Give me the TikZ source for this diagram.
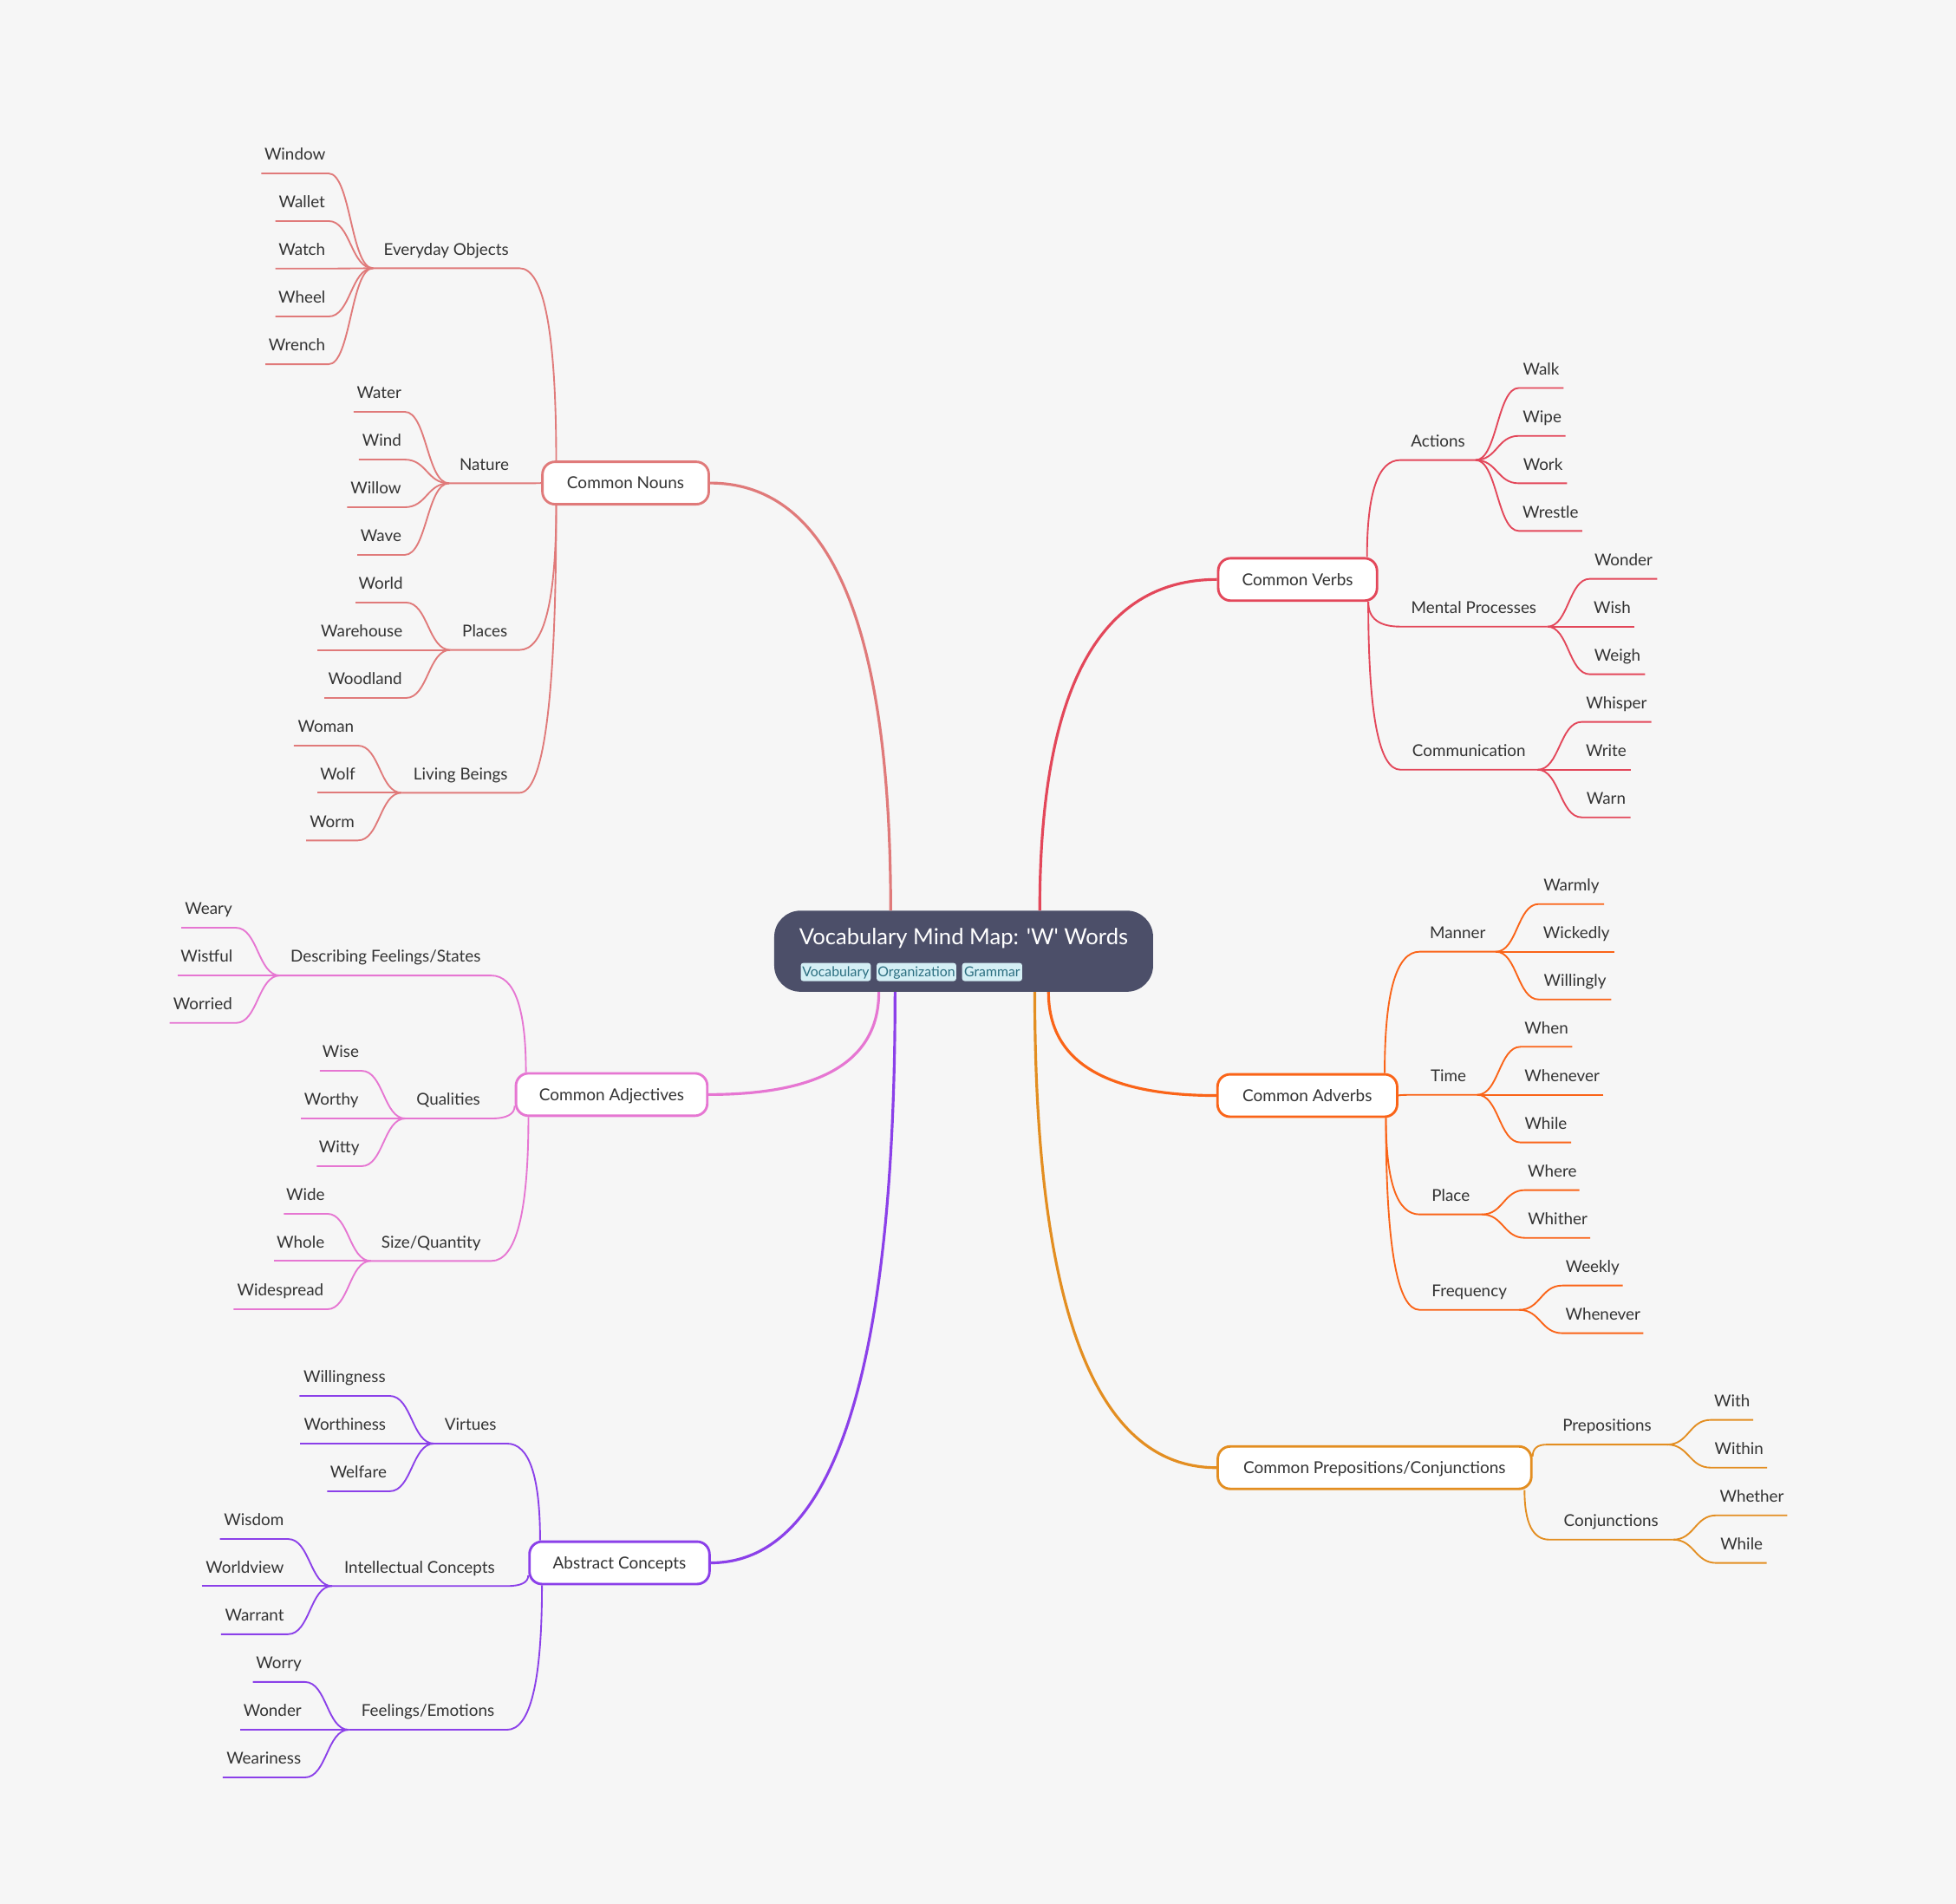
\documentclass[tikz,border=0pt]{standalone}
\usepackage{fontspec}
\setmainfont{Lato}
\usetikzlibrary{calc,positioning}

\definecolor{paper}{HTML}{F6F6F6}
\definecolor{ink}{HTML}{333333}
\definecolor{rootc}{HTML}{4C4F69}
\definecolor{tagfill}{HTML}{D4EFF5}
\definecolor{tagtext}{HTML}{2B6E80}
\definecolor{cN}{HTML}{E07A7A}
\definecolor{cV}{HTML}{E3475A}
\definecolor{cA}{HTML}{FA6418}
\definecolor{cP}{HTML}{E38E21}
\definecolor{cJ}{HTML}{E676D2}
\definecolor{cB}{HTML}{8B40E9}

\tikzset{
  word/.style={font=\fontsize{13.1}{16}\selectfont, text=ink, inner sep=0pt, text depth=10.4pt, anchor=south west},
  topic/.style={draw=#1, fill=white, line width=2pt, rounded corners=10pt, minimum height=34pt, inner sep=0pt, text height=9.5pt, text depth=0pt, font=\fontsize{13.2}{16}\selectfont, text=ink},
  centre/.style={fill=rootc, rounded corners=21pt, minimum width=303.7pt, minimum height=65pt, inner sep=0pt},
  title/.style={font=\fontsize{17.8}{22}\selectfont, text=white, inner sep=0pt, anchor=base},
  tagbox/.style={fill=tagfill, text=tagtext, rounded corners=2pt, minimum height=14.5pt, inner sep=0pt, text height=7.8pt, text depth=0pt, font=\fontsize{11}{12}\selectfont},
  branch/.style={line width=2.2pt},
  link/.style={line width=1.3pt},
  twig/.style={to path={let \p1=(\tikztostart), \p2=(\tikztotarget) in .. controls ({(\x1+\x2)/2},\y1) and ({(\x1+\x2)/2},\y2) .. (\tikztotarget)}},
  stem/.style={to path={let \p1=(\tikztostart), \p2=(\tikztotarget) in .. controls ({\x1+2*(\x2-\x1)/3},\y1) and (\x2,{\y2+2*(\y1-\y2)/3}) .. (\tikztotarget)}}
}

\begin{document}
\begin{tikzpicture}[x=1pt, y=-1pt]
\path[use as bounding box, fill=paper] (0,0) rectangle (1568,1526);

% centre
\node[centre] (root) at (772.5,762.5) {};
\node[title] (ttl) at (772.5,757.1) {Vocabulary Mind Map: \textquotesingle W\textquotesingle{} Words};
\node[tagbox, minimum width=56.1pt, anchor=west] (tag1) at (641.7,779.2) {Vocabulary};
\node[tagbox, minimum width=63.7pt, right=4.4pt of tag1] (tag2) {Organization};
\node[tagbox, minimum width=48.1pt, right=4.4pt of tag2] (tag3) {Grammar};

% main topics
\node[topic=cN, minimum width=133.3pt] (nouns) at (501.5,387.2) {Common Nouns};
\node[topic=cV, minimum width=127.3pt] (verbs) at (1040.2,464.5) {Common Verbs};
\node[topic=cA, minimum width=144pt] (adverbs) at (1048,878.2) {Common Adverbs};
\node[topic=cP, minimum width=251.4pt] (preps) at (1101.9,1176.5) {Common Prepositions/Conjunctions};
\node[topic=cJ, minimum width=153.4pt] (adj) at (490.3,877.4) {Common Adjectives};
\node[topic=cB, minimum width=144.3pt] (abs) at (496.6,1252.8) {Abstract Concepts};

\coordinate (rN) at ([xshift=-58.5pt]root.north);
\coordinate (rV) at ([xshift=61pt]root.north);
\coordinate (rJ) at ([xshift=-68pt]root.south);
\coordinate (rB) at ([xshift=-55pt]root.south);
\coordinate (rP) at ([xshift=57pt]root.south);
\coordinate (rA) at ([xshift=68pt]root.south);

\draw[branch, cN] (nouns.east) to[stem] (rN);
\draw[branch, cV] (verbs.west) to[stem] (rV);
\draw[branch, cJ] (adj.east) to[stem] (rJ);
\draw[branch, cB] (abs.east) to[stem] (rB);
\draw[branch, cP] (preps.west) to[stem] (rP);
\draw[branch, cA] (adverbs.west) to[stem] (rA);

% nouns
\coordinate (nT) at ([xshift=12pt]nouns.north west);
\coordinate (nB) at ([xshift=12pt]nouns.south west);
\node[word, minimum width=117pt] (eo) at (299,215) {Everyday Objects};
\node[word, minimum width=56pt] (nat) at (360,387.4) {Nature};
\node[word, minimum width=55pt] (pla) at (361,521) {Places};
\node[word, minimum width=94pt] (liv) at (322,635.5) {Living Beings};
\draw[link, cN] (eo.south west) -- (eo.south east) to[stem] (nT);
\draw[link, cN] (nat.south west) -- (nat.south east) to[stem] (nouns.west);
\draw[link, cN] (pla.south west) -- (pla.south east) to[stem] (nB);
\draw[link, cN] (liv.south west) -- (liv.south east) to[stem] (nB);

\node[word, minimum width=53.5pt] (window) at (209.5,139) {Window};
\node[word, minimum width=42.3pt] (wallet) at (220.7,177.2) {Wallet};
\node[word, minimum width=42.3pt] (watch) at (220.7,215.3) {Watch};
\node[word, minimum width=42.3pt] (wheel) at (220.7,253.7) {Wheel};
\node[word, minimum width=50.3pt] (wrench) at (212.7,292) {Wrench};
\draw[link, cN] (window.south west) -- (window.south east) to[twig] (eo.south west);
\draw[link, cN] (wallet.south west) -- (wallet.south east) to[twig] (eo.south west);
\draw[link, cN] (watch.south west) -- (watch.south east) to[twig] (eo.south west);
\draw[link, cN] (wheel.south west) -- (wheel.south east) to[twig] (eo.south west);
\draw[link, cN] (wrench.south west) -- (wrench.south east) to[twig] (eo.south west);

\node[word, minimum width=40.5pt] (water) at (283.5,330.1) {Water};
\node[word, minimum width=36.3pt] (wind) at (287.7,368.4) {Wind};
\node[word, minimum width=45.7pt] (willow) at (278.3,406.6) {Willow};
\node[word, minimum width=37.6pt] (wave) at (286.4,444.8) {Wave};
\draw[link, cN] (water.south west) -- (water.south east) to[twig] (nat.south west);
\draw[link, cN] (wind.south west) -- (wind.south east) to[twig] (nat.south west);
\draw[link, cN] (willow.south west) -- (willow.south east) to[twig] (nat.south west);
\draw[link, cN] (wave.south west) -- (wave.south east) to[twig] (nat.south west);

\node[word, minimum width=40pt] (world) at (285,483) {World};
\node[word, minimum width=70.4pt] (warehouse) at (254.6,521) {Warehouse};
\node[word, minimum width=65pt] (woodland) at (260,559.5) {Woodland};
\draw[link, cN] (world.south west) -- (world.south east) to[twig] (pla.south west);
\draw[link, cN] (warehouse.south west) -- (warehouse.south east) to[twig] (pla.south west);
\draw[link, cN] (woodland.south west) -- (woodland.south east) to[twig] (pla.south west);

\node[word, minimum width=50.9pt] (woman) at (235.6,597.7) {Woman};
\node[word, minimum width=31.9pt] (wolf) at (254.6,635.5) {Wolf};
\node[word, minimum width=41pt] (worm) at (245.5,673.7) {Worm};
\draw[link, cN] (woman.south west) -- (woman.south east) to[twig] (liv.south west);
\draw[link, cN] (wolf.south west) -- (wolf.south east) to[twig] (liv.south west);
\draw[link, cN] (worm.south west) -- (worm.south east) to[twig] (liv.south west);

% adjectives
\coordinate (jT) at ([xshift=9pt]adj.north west);
\coordinate (jL) at ([yshift=-9pt]adj.west);
\coordinate (jB) at ([xshift=11pt]adj.south west);
\node[word, minimum width=169pt] (dfs) at (224.4,782) {Describing Feelings/States};
\node[word, minimum width=68.4pt] (qua) at (325,896.6) {Qualities};
\node[word, minimum width=96.1pt] (siz) at (297.3,1010.8) {Size/Quantity};
\draw[link, cJ] (dfs.south west) -- (dfs.south east) to[stem] (jT);
\draw[link, cJ] (qua.south west) -- (qua.south east) to[stem] (jL);
\draw[link, cJ] (siz.south west) -- (siz.south east) to[stem] (jB);

\node[word, minimum width=43.4pt] (weary) at (145.3,743.7) {Weary};
\node[word, minimum width=46.5pt] (wistful) at (142.2,782) {Wistful};
\node[word, minimum width=52.7pt] (worried) at (136,820) {Worried};
\draw[link, cJ] (weary.south west) -- (weary.south east) to[twig] (dfs.south west);
\draw[link, cJ] (wistful.south west) -- (wistful.south east) to[twig] (dfs.south west);
\draw[link, cJ] (worried.south west) -- (worried.south east) to[twig] (dfs.south west);

\node[word, minimum width=33.2pt] (wise) at (256.3,858.4) {Wise};
\node[word, minimum width=48pt] (worthy) at (241.5,896.6) {Worthy};
\node[word, minimum width=35.6pt] (witty) at (253.9,934.8) {Witty};
\draw[link, cJ] (wise.south west) -- (wise.south east) to[twig] (qua.south west);
\draw[link, cJ] (worthy.south west) -- (worthy.south east) to[twig] (qua.south west);
\draw[link, cJ] (witty.south west) -- (witty.south east) to[twig] (qua.south west);

\node[word, minimum width=34.5pt] (wide) at (227.5,973) {Wide};
\node[word, minimum width=42.4pt] (whole) at (219.6,1010.8) {Whole};
\node[word, minimum width=74.8pt] (widespread) at (187.2,1049.5) {Widespread};
\draw[link, cJ] (wide.south west) -- (wide.south east) to[twig] (siz.south west);
\draw[link, cJ] (whole.south west) -- (whole.south east) to[twig] (siz.south west);
\draw[link, cJ] (widespread.south west) -- (widespread.south east) to[twig] (siz.south west);

% abstract concepts
\coordinate (bT) at ([xshift=9.5pt]abs.north west);
\coordinate (bL) at ([yshift=-10pt]abs.west);
\coordinate (bB) at ([xshift=11pt]abs.south west);
\node[word, minimum width=58pt] (vir) at (348,1157.2) {Virtues};
\node[word, minimum width=139.8pt] (int) at (266.2,1271.4) {Intellectual Concepts};
\node[word, minimum width=126.4pt] (fee) at (279.6,1386.6) {Feelings/Emotions};
\draw[link, cB] (vir.south west) -- (vir.south east) to[stem] (bT);
\draw[link, cB] (int.south west) -- (int.south east) to[stem] (bL);
\draw[link, cB] (fee.south west) -- (fee.south east) to[stem] (bB);

\node[word, minimum width=72pt] (willingness) at (240,1119) {Willingness};
\node[word, minimum width=71.4pt] (worthiness) at (240.6,1157.2) {Worthiness};
\node[word, minimum width=49.8pt] (welfare) at (262.2,1195.4) {Welfare};
\draw[link, cB] (willingness.south west) -- (willingness.south east) to[twig] (vir.south west);
\draw[link, cB] (worthiness.south west) -- (worthiness.south east) to[twig] (vir.south west);
\draw[link, cB] (welfare.south west) -- (welfare.south east) to[twig] (vir.south west);

\node[word, minimum width=54.2pt] (wisdom) at (176.3,1233.7) {Wisdom};
\node[word, minimum width=68.8pt] (worldview) at (161.7,1271.4) {Worldview};
\node[word, minimum width=53.3pt] (warrant) at (177.2,1310) {Warrant};
\draw[link, cB] (wisdom.south west) -- (wisdom.south east) to[twig] (int.south west);
\draw[link, cB] (worldview.south west) -- (worldview.south east) to[twig] (int.south west);
\draw[link, cB] (warrant.south west) -- (warrant.south east) to[twig] (int.south west);

\node[word, minimum width=41.3pt] (worry) at (202.7,1348.3) {Worry};
\node[word, minimum width=51.5pt] (wonderB) at (192.5,1386.6) {Wonder};
\node[word, minimum width=65.5pt] (weariness) at (178.5,1424.8) {Weariness};
\draw[link, cB] (worry.south west) -- (worry.south east) to[twig] (fee.south west);
\draw[link, cB] (wonderB.south west) -- (wonderB.south east) to[twig] (fee.south west);
\draw[link, cB] (weariness.south west) -- (weariness.south east) to[twig] (fee.south west);

% verbs
\coordinate (vT) at ([xshift=-9pt]verbs.north east);
\coordinate (vB) at ([xshift=-8pt]verbs.south east);
\node[word, minimum width=60pt] (act) at (1122.5,368.8) {Actions};
\node[word, minimum width=117.5pt] (men) at (1122.5,502.3) {Mental Processes};
\node[word, minimum width=109.7pt] (com) at (1122.5,617) {Communication};
\draw[link, cV] (act.south east) -- (act.south west) to[stem] (vT);
\draw[link, cV] (men.south east) -- (men.south west) to[stem] (vB);
\draw[link, cV] (com.south east) -- (com.south west) to[stem] (vB);

\node[word, minimum width=35.5pt] (walk) at (1217.5,311) {Walk};
\node[word, minimum width=37.1pt] (wipe) at (1217.5,349.4) {Wipe};
\node[word, minimum width=38.3pt] (work) at (1217.5,387.4) {Work};
\node[word, minimum width=50.5pt] (wrestle) at (1217.5,425.6) {Wrestle};
\draw[link, cV] (walk.south east) -- (walk.south west) to[twig] (act.south east);
\draw[link, cV] (wipe.south east) -- (wipe.south west) to[twig] (act.south east);
\draw[link, cV] (work.south east) -- (work.south west) to[twig] (act.south east);
\draw[link, cV] (wrestle.south east) -- (wrestle.south west) to[twig] (act.south east);

\node[word, minimum width=53.5pt] (wonderV) at (1274.5,464) {Wonder};
\node[word, minimum width=35.3pt] (wish) at (1274.5,502.3) {Wish};
\node[word, minimum width=43.8pt] (weigh) at (1274.5,540.5) {Weigh};
\draw[link, cV] (wonderV.south east) -- (wonderV.south west) to[twig] (men.south east);
\draw[link, cV] (wish.south east) -- (wish.south west) to[twig] (men.south east);
\draw[link, cV] (weigh.south east) -- (weigh.south west) to[twig] (men.south east);

\node[word, minimum width=55.3pt] (whisper) at (1268,578.7) {Whisper};
\node[word, minimum width=38.6pt] (write) at (1268,617) {Write};
\node[word, minimum width=38.6pt] (warn) at (1268,655.2) {Warn};
\draw[link, cV] (whisper.south east) -- (whisper.south west) to[twig] (com.south east);
\draw[link, cV] (write.south east) -- (write.south west) to[twig] (com.south east);
\draw[link, cV] (warn.south east) -- (warn.south west) to[twig] (com.south east);

% adverbs
\coordinate (aT) at ([xshift=-11pt]adverbs.north east);
\coordinate (aB) at ([xshift=-10pt]adverbs.south east);
\node[word, minimum width=60.7pt] (man) at (1138,762.9) {Manner};
\node[word, minimum width=45.8pt] (tim) at (1138,877.6) {Time};
\node[word, minimum width=49.5pt] (plc) at (1138,973.5) {Place};
\node[word, minimum width=79.3pt] (fre) at (1138,1050) {Frequency};
\draw[link, cA] (man.south east) -- (man.south west) to[stem] (aT);
\draw[link, cA] (tim.south east) -- (tim.south west) to[stem] (adverbs.east);
\draw[link, cA] (plc.south east) -- (plc.south west) to[stem] (aB);
\draw[link, cA] (fre.south east) -- (fre.south west) to[stem] (aB);

\node[word, minimum width=52pt] (warmly) at (1233.5,724.7) {Warmly};
\node[word, minimum width=60pt] (wickedly) at (1233.5,762.9) {Wickedly};
\node[word, minimum width=57.8pt] (willingly) at (1233.5,801.2) {Willingly};
\draw[link, cA] (warmly.south east) -- (warmly.south west) to[twig] (man.south east);
\draw[link, cA] (wickedly.south east) -- (wickedly.south west) to[twig] (man.south east);
\draw[link, cA] (willingly.south east) -- (willingly.south west) to[twig] (man.south east);

\node[word, minimum width=41pt] (when) at (1219,839.1) {When};
\node[word, minimum width=66pt] (wheneverT) at (1219,877.6) {Whenever};
\node[word, minimum width=40pt] (whileT) at (1219,915.8) {While};
\draw[link, cA] (when.south east) -- (when.south west) to[twig] (tim.south east);
\draw[link, cA] (wheneverT.south east) -- (wheneverT.south west) to[twig] (tim.south east);
\draw[link, cA] (whileT.south east) -- (whileT.south west) to[twig] (tim.south east);

\node[word, minimum width=43.2pt] (where) at (1222.5,954) {Where};
\node[word, minimum width=51.9pt] (whither) at (1222.5,992.3) {Whither};
\draw[link, cA] (where.south east) -- (where.south west) to[twig] (plc.south east);
\draw[link, cA] (whither.south east) -- (whither.south west) to[twig] (plc.south east);

\node[word, minimum width=47.9pt] (weekly) at (1252.5,1030.5) {Weekly};
\node[word, minimum width=64.5pt] (wheneverF) at (1252.5,1068.7) {Whenever};
\draw[link, cA] (weekly.south east) -- (weekly.south west) to[twig] (fre.south east);
\draw[link, cA] (wheneverF.south east) -- (wheneverF.south west) to[twig] (fre.south east);

% prepositions / conjunctions
\coordinate (pU) at ([yshift=9pt]preps.east);
\coordinate (pB) at ([xshift=-6.5pt]preps.south east);
\node[word, minimum width=96.1pt] (pre) at (1240,1158) {Prepositions};
\node[word, minimum width=98.7pt] (con) at (1242,1234.2) {Conjunctions};
\draw[link, cP] (pre.south east) -- (pre.south west) to[stem] (pU);
\draw[link, cP] (con.south east) -- (con.south west) to[stem] (pB);

\node[word, minimum width=33.5pt] (with) at (1371.5,1138.2) {With};
\node[word, minimum width=44.7pt] (within) at (1371.5,1176.5) {Within};
\draw[link, cP] (with.south east) -- (with.south west) to[twig] (pre.south east);
\draw[link, cP] (within.south east) -- (within.south west) to[twig] (pre.south east);

\node[word, minimum width=56.3pt] (whether) at (1376,1214.7) {Whether};
\node[word, minimum width=39.8pt] (whileC) at (1376,1252.9) {While};
\draw[link, cP] (whether.south east) -- (whether.south west) to[twig] (con.south east);
\draw[link, cP] (whileC.south east) -- (whileC.south west) to[twig] (con.south east);
\end{tikzpicture}
\end{document}
